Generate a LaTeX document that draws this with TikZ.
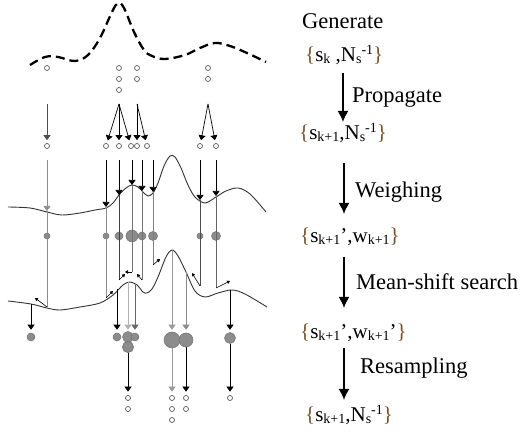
\documentclass[tikz,border=0pt]{standalone}
\usepackage{fontspec}
\setmainfont{Liberation Serif}
\usetikzlibrary{arrows.meta}
\definecolor{brn}{RGB}{125,80,35}
\definecolor{pgray}{RGB}{140,140,140}
\newcommand{\lb}{\textcolor{brn}{\{}}
\newcommand{\rb}{\textcolor{brn}{\}}}
\newcommand{\smf}[1]{{\fontsize{14}{14}\selectfont #1}}
\newcommand{\subs}[1]{\raisebox{-2pt}{\smf{#1}}}
\newcommand{\sups}[1]{\raisebox{7pt}{\smf{#1}}}
\begin{document}
\begin{tikzpicture}[x=1pt,y=-1pt,
  op/.style={circle,draw=black!65,line width=0.7pt,inner sep=0pt,minimum size=5pt},
  wp/.style={circle,draw=black!55,fill=pgray,line width=0.5pt,inner sep=0pt,minimum size=#1},
  tip/.style={-{Triangle[length=5pt,width=7pt]}},
  ln/.style={line width=0.7pt},
  ms/.style={-{Triangle[length=3pt,width=3.5pt]},line width=0.6pt},
  setl/.style={font=\fontsize{21}{21}\selectfont,anchor=base west,inner sep=0pt},
  lab/.style={font=\fontsize{22.5}{22.5}\selectfont,anchor=base west,inner sep=0pt},
  big/.style={line width=1.8pt,-{Latex[length=11pt,width=11pt]}},
  crv/.style={line width=0.9pt,black!80}
]
\useasboundingbox (0,0) rectangle (523,435);

% prior (dashed)
\draw[line width=2.3pt,dash pattern=on 9pt off 5pt] plot[smooth,tension=0.6] coordinates {(30,65) (45,57) (58,57) (75,61) (88,55) (100,38) (112,12) (118,3) (124,8) (134,32) (144,50) (152,56) (165,59) (185,55) (200,48) (215,43) (230,46) (247,53) (266,62)};

% likelihood curves
\draw[crv] plot[smooth,tension=0.55] coordinates {(8,207) (30,208) (47,212) (62,215) (80,213) (95,210) (106,208) (113,203) (119,195) (126,188) (132,185) (138,187) (143,192) (148,196) (153,193) (158,183) (164,166) (170,156) (175,157) (181,168) (188,185) (195,197) (205,203) (216,197) (226,191) (238,188) (250,194) (266,212)};
\draw[crv] plot[smooth,tension=0.55] coordinates {(8,301) (31,304) (47,308) (60,310) (80,307) (100,303) (113,295) (123,285) (130,282) (137,285) (143,292) (147,293) (152,289) (158,277) (166,257) (172,250) (178,256) (186,272) (195,291) (205,297) (218,293) (232,290) (245,294) (267,307)};

% generated particles
\node[op] (a1) at (47,68) {};
\node[op] (b1) at (119,68) {};
\node[op] (b2) at (119,79) {};
\node[op] (b3) at (119,90) {};
\node[op] (c1) at (137,68) {};
\node[op] (c2) at (137,79) {};
\node[op] (d1) at (208,68) {};
\node[op] (d2) at (208,79) {};

% propagated particles
\node[op] (e1) at (47,146) {};
\node[op] (e2) at (106,146) {};
\node[op] (e3) at (119,146) {};
\node[op] (e4) at (131,146) {};
\node[op] (e5) at (137,146) {};
\node[op] (e6) at (147,146) {};
\node[op] (e7) at (200,146) {};
\node[op] (e8) at (216,146) {};

\coordinate (pa) at (47,104);
\coordinate (pb) at (119,104);
\coordinate (pc) at (137,104);
\coordinate (pd) at (208,104);
\draw[ln,tip,black!70,shorten >=3pt] (pa) -- (e1);
\draw[ln,tip,shorten >=3pt] (pb) -- (e2);
\draw[ln,tip,shorten >=3pt] (pb) -- (e3);
\draw[ln,tip,shorten >=3pt] (pb) -- (e4);
\draw[ln,tip,shorten >=3pt] (pc) -- (e5);
\draw[ln,tip,shorten >=3pt] (pc) -- (e6);
\draw[ln,tip,shorten >=3pt] (pd) -- (e7);
\draw[ln,tip,shorten >=3pt] (pd) -- (e8);

% weighted particles
\node[wp=6pt] (w1) at (47,236) {};
\node[wp=6pt] (w2) at (106,236) {};
\node[wp=8pt] (w3) at (119,236) {};
\node[wp=12pt] (w4) at (132,236) {};
\node[wp=8pt] (w5) at (142,236) {};
\node[wp=9pt] (w6) at (153,236) {};
\node[wp=6pt] (w7) at (200,236) {};
\node[wp=9pt] (w8) at (216,236) {};

% top of measurement lines
\coordinate (t1) at (47,160);  \coordinate (u1) at (47,211);
\coordinate (t2) at (106,160); \coordinate (u2) at (106,207);
\coordinate (t3) at (119,160); \coordinate (u3) at (119,195);
\coordinate (t4) at (132,160); \coordinate (u4) at (132,185);
\coordinate (t5) at (142,160); \coordinate (u5) at (142,191);
\coordinate (t6) at (153,160); \coordinate (u6) at (153,192);
\coordinate (t7) at (200,160); \coordinate (u7) at (200,200);
\coordinate (t8) at (216,160); \coordinate (u8) at (216,196);

\draw[ln,tip,black!45] (t1) -- (u1);
\foreach \i in {2,...,8}{\draw[ln,tip] (t\i) -- (u\i);}

% ends on the lower curve and mean-shift moves
\coordinate (v1) at (47,307);  \coordinate (m1) at (35,298);
\coordinate (v2) at (106,298); \coordinate (m2) at (113,291);
\coordinate (v3) at (119,280); \coordinate (m3) at (125,274);
\coordinate (v4) at (132,272); \coordinate (m4) at (125,272);
\coordinate (v5) at (142,280); \coordinate (m5) at (137,274);
\coordinate (v6) at (153,265); \coordinate (m6) at (160,259);
\coordinate (v7) at (200,286); \coordinate (m7) at (192,273);
\coordinate (v8) at (216,288); \coordinate (m8) at (230,281);

\draw[ln,black!45] (u1) -- (v1);
\draw[ln,black!45] (u2) -- (v2);
\draw[ln,black!75] (u3) -- (v3);
\draw[ln,black!55] (u4) -- (v4);
\draw[ln,black!55] (u5) -- (v5);
\draw[ln,black!50] (u6) -- (v6);
\draw[ln,black!70] (u7) -- (v7);
\draw[ln,black!60] (u8) -- (v8);
\foreach \i in {1,...,8}{\draw[ms] (v\i) -- (m\i);}

% resampled particles
\node[wp=8pt] (r1) at (31,337) {};
\node[wp=8pt] (r2) at (117,337) {};
\node[wp=11pt] (r3) at (128,337) {};
\node[wp=8pt] (r4) at (135,337) {};
\node[wp=11pt] (r5) at (128,347) {};
\node[wp=16pt] (r6) at (172,340) {};
\node[wp=14pt] (r7) at (186,340) {};
\node[wp=11pt] (r8) at (230,338) {};

\coordinate (g1) at (31,304);
\coordinate (g2) at (117,289);
\coordinate (g3) at (128,282);
\coordinate (g4) at (135,284);
\coordinate (g5) at (172,250);
\coordinate (g6) at (186,272);
\coordinate (g7) at (230,290);
\draw[ln,tip,shorten >=3pt] (g1) -- (r1);
\draw[ln,tip,shorten >=3pt] (g2) -- (r2);
\draw[ln,tip,black!30,shorten >=1.5pt] (g3) -- (r3);
\draw[ln,tip,black!60,shorten >=3pt] (g4) -- (r4);
\draw[ln,tip,black!40,shorten >=2pt] (g5) -- (r6);
\draw[ln,tip,black!45,shorten >=3pt] (g6) -- (r7);
\draw[ln,tip,shorten >=2.5pt] (g7) -- (r8);
\node[wp=11pt] at (r5) {};

% new particle set
\node[op] (f1) at (128,398) {};
\node[op] (f2) at (128,409) {};
\node[op] (f3) at (172,398) {};
\node[op] (f4) at (172,409) {};
\node[op] (f5) at (172,420) {};
\node[op] (f6) at (186,398) {};
\node[op] (f7) at (186,409) {};
\node[op] (f8) at (230,398) {};
\draw[ln,tip,shorten >=3.5pt] (r5) -- (f1);
\draw[ln,tip,black!40,shorten >=3.5pt] (r6) -- (f3);
\draw[ln,tip,shorten >=3.5pt] (r7) -- (f6);
\draw[ln,tip,shorten >=3.5pt] (r8) -- (f8);

% right-hand flow
\node[lab] (gen) at (302,29) {Generate};
\node[setl] (s1) at (305,62) {\lb s\subs{k} ,N\subs{s}\sups{-1}\rb};
\node[setl] (s2) at (299,140) {\lb s\subs{k+1},N\subs{s}\sups{-1}\rb};
\node[setl] (s3) at (300,243) {\lb s\subs{k+1}’,w\subs{k+1}\rb};
\node[setl] (s4) at (300,339) {\lb s\subs{k+1}’,w\subs{k+1}’\rb};
\node[setl] (s5) at (305,422) {\lb s\subs{k+1},N\subs{s}\sups{-1}\rb};

\coordinate (A1s) at (343,73);  \coordinate (A1e) at (343,122);
\coordinate (A2s) at (344,163); \coordinate (A2e) at (344,214);
\coordinate (A3s) at (344,257); \coordinate (A3e) at (344,308);
\coordinate (A4s) at (344,348); \coordinate (A4e) at (344,400);
\draw[big] (A1s) -- (A1e);
\draw[big] (A2s) -- (A2e);
\draw[big] (A3s) -- (A3e);
\draw[big] (A4s) -- (A4e);

\node[lab] (l1) at (352,103) {Propagate};
\node[lab] (l2) at (355,198) {Weighing};
\node[lab] (l3) at (356,290) {Mean-shift search};
\node[lab] (l4) at (360,374) {Resampling};
\end{tikzpicture}
\end{document}
